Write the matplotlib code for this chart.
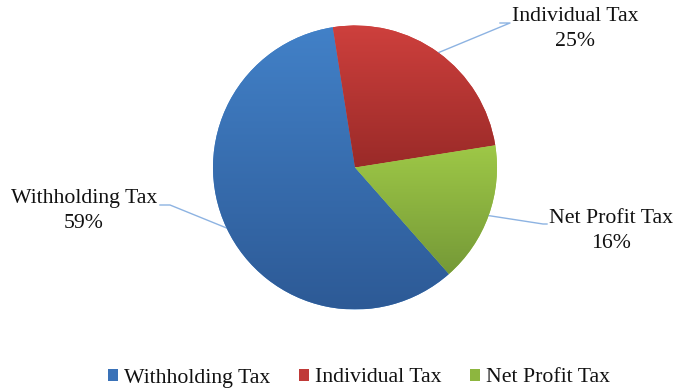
import numpy as np
import matplotlib
matplotlib.use("Agg")
import matplotlib.pyplot as plt
from matplotlib.colors import LinearSegmentedColormap
from matplotlib.patches import Patch

categories = ["Withholding Tax", "Individual Tax", "Net Profit Tax"]
values = [59, 25, 16]
labels = ["Withholding Tax\n59%", "Individual Tax\n25%", "Net Profit Tax\n16%"]
top_colors = ["#4281C8", "#CE403D", "#9EC847"]
bottom_colors = ["#2D5A96", "#9A2A28", "#759937"]
legend_colors = ["#3A72B8", "#C03A38", "#8DB63F"]

W, H = 677, 392
fig = plt.figure(figsize=(W / 100, H / 100), dpi=100)
ax = fig.add_axes([0, 0, 1, 1])
plt.rcParams['font.family'] = ['Liberation Serif', 'DejaVu Serif']

cx, cy, r = 355, H - 167.5, 142
wedges, _ = ax.pie(values, startangle=-48.6, counterclock=False,
                   center=(cx, cy), radius=r,
                   colors=top_colors, wedgeprops=dict(linewidth=0))

grad = np.linspace(0, 1, 256).reshape(-1, 1)
for w, tc, bc in zip(wedges, top_colors, bottom_colors):
    bb = w.get_path().get_extents(w.get_transform() + ax.transData.inverted())
    cmap = LinearSegmentedColormap.from_list("g", [tc, bc])
    im = ax.imshow(grad, cmap=cmap, extent=[bb.x0, bb.x1, bb.y0, bb.y1],
                   origin="upper", aspect="auto", zorder=2)
    im.set_clip_path(w)

# labels with leader lines
label_pos = [(84, 211), (575, 29), (611, 231)]
elbows = [(170, 205), (510, 23), (543, 224)]
line_ends = [(160, 205), (500, 23), (547, 224)]
for w, lab, (lx, ly), (ex, ey), (tx, ty) in zip(wedges, labels, label_pos, elbows, line_ends):
    mid = np.deg2rad((w.theta1 + w.theta2) / 2)
    px, py = cx + r * np.cos(mid), cy + r * np.sin(mid)
    ax.plot([px, ex, tx], [py, H - ey, H - ty], color="#8DB3E2", lw=1.0, zorder=1)
    ax.text(lx, H - ly, lab, ha="center", va="center", fontsize=15.7,
            color="#111111", linespacing=1.38, zorder=3)

handles = [Patch(facecolor=c, edgecolor="none") for c in legend_colors]
leg = ax.legend(handles, categories, loc="center", bbox_to_anchor=(359 / W, 1 - 378 / H),
                ncol=3, frameon=False, fontsize=15.7, handlelength=0.45, handleheight=0.45,
                handletextpad=0.25, columnspacing=1.35, borderpad=0)
for t in leg.get_texts():
    t.set_color("#111111")

ax.set_xlim(0, W)
ax.set_ylim(0, H)
ax.set_aspect("equal")
ax.axis("off")
fig.savefig("out.png", dpi=100)
